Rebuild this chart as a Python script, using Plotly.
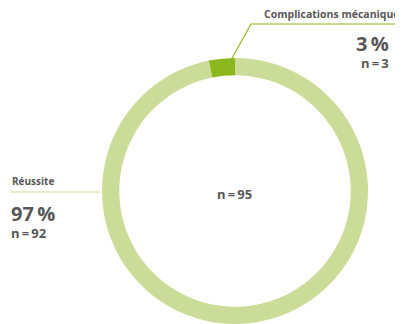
import plotly.graph_objects as go

labels = ["Réussite", "Complications mécaniques"]
values = [92, 3]
percents = ["97\u2009%", "3\u2009%"]
counts = ["n\u2009=\u200992", "n\u2009=\u20093"]
total_label = "n\u2009=\u200995"
colors = ["#cbdc98", "#8cb81f"]

OFF = 8  # default body margin of the page
W, H = 403 - OFF, 324 - OFF
GRAY = "#575757"
FONT = "Open Sans"

def px(x):
    return (x - OFF) / W

def py(y):
    return 1 - (y - OFF) / H

fig = go.Figure(go.Pie(
    labels=labels, values=values, hole=0.87, sort=False,
    direction="clockwise", rotation=0,
    marker=dict(colors=colors, line=dict(width=0)),
    textinfo="none", hoverinfo="label+value",
    domain=dict(x=[px(102), px(368)], y=[0, 266 / H]),
    showlegend=False,
))

ann = []
ann.append(dict(x=px(262), y=py(14), text="<b>" + labels[1] + "</b>", xanchor="left", yanchor="middle",
                font=dict(size=10.5, color=GRAY, family=FONT)))
ann.append(dict(x=px(391), y=py(44), text="<b>" + percents[1] + "</b>", xanchor="right", yanchor="middle",
                font=dict(size=20, color=GRAY, family=FONT)))
ann.append(dict(x=px(391), y=py(63), text="<b>" + counts[1] + "</b>", xanchor="right", yanchor="middle",
                font=dict(size=13, color=GRAY, family=FONT)))
ann.append(dict(x=px(10), y=py(181), text="<b>" + labels[0] + "</b>", xanchor="left", yanchor="middle",
                font=dict(size=10, color=GRAY, family=FONT)))
ann.append(dict(x=px(9), y=py(213), text="<b>" + percents[0] + "</b>", xanchor="left", yanchor="middle",
                font=dict(size=20, color=GRAY, family=FONT)))
ann.append(dict(x=px(9), y=py(233), text="<b>" + counts[0] + "</b>", xanchor="left", yanchor="middle",
                font=dict(size=13, color=GRAY, family=FONT)))
ann.append(dict(x=px(235), y=py(194), text="<b>" + total_label + "</b>", xanchor="center", yanchor="middle",
                font=dict(size=13, color=GRAY, family=FONT)))
for a in ann:
    a.update(xref="paper", yref="paper", showarrow=False)

shapes = [
    dict(type="path", xref="paper", yref="paper",
         path=f"M {px(231)} {py(60)} L {px(251)} {py(24)} L {px(403)} {py(24)}",
         line=dict(color="#8cb81f", width=1.2)),
    dict(type="line", xref="paper", yref="paper",
         x0=px(10), y0=py(192), x1=px(101), y1=py(192),
         line=dict(color="#cbdc98", width=1.2)),
]

fig.update_layout(
    width=W, height=H, margin=dict(l=0, r=0, t=0, b=0),
    paper_bgcolor="white", plot_bgcolor="white",
    annotations=ann, shapes=shapes,
)
fig.write_html("out.html")
